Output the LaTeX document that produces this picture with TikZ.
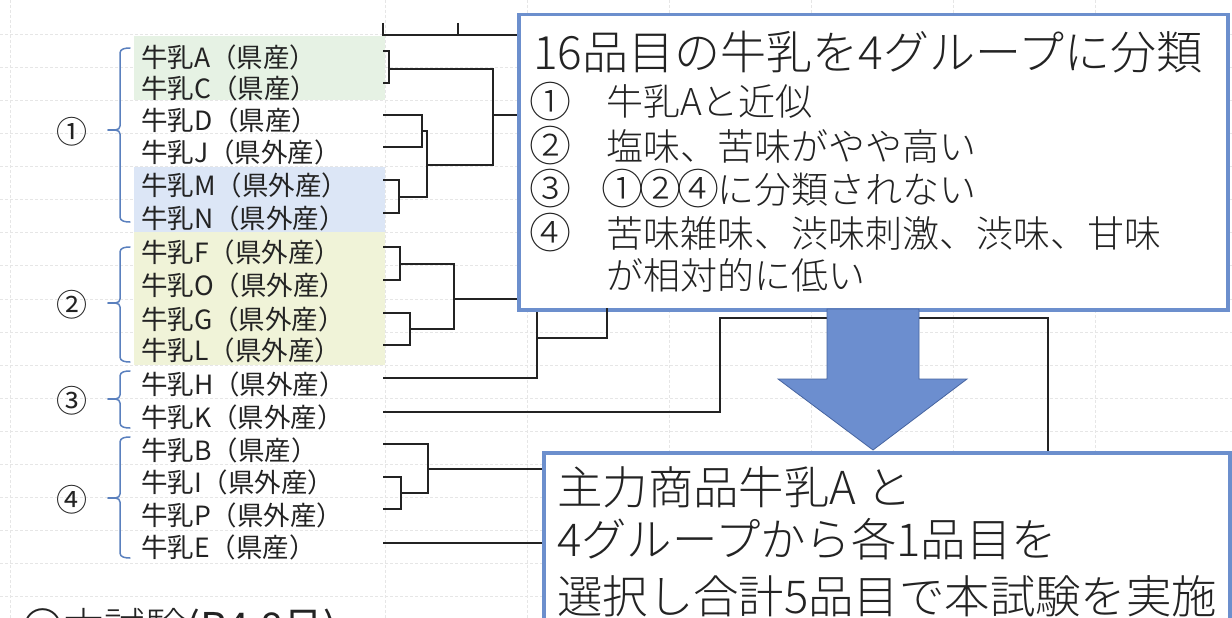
\documentclass[tikz,border=0pt]{standalone}
\usepackage{fontspec}
\setmainfont{Noto Sans CJK JP}
\IfFontExistsTF{Noto Sans CJK JP Light}
  {\newfontfamily\thinfont{Noto Sans CJK JP Light}}
  {\newfontfamily\thinfont{Noto Sans CJK JP}}
\definecolor{txt}{RGB}{35,35,35}
\definecolor{boxblue}{RGB}{108,143,205}
\definecolor{arrfill}{RGB}{108,142,207}
\definecolor{arrline}{RGB}{70,100,160}
\definecolor{brkblue}{RGB}{90,128,190}
\definecolor{bggreen}{RGB}{230,242,228}
\definecolor{bgblue}{RGB}{220,230,246}
\definecolor{bgyellow}{RGB}{240,243,216}
\definecolor{gridc}{RGB}{230,230,230}
\tikzset{
  lbl/.style={anchor=west, inner sep=0pt, text=txt, font=\fontsize{26.5}{30}\selectfont},
  grpnum/.style={inner sep=0pt, text=txt, font=\fontsize{31}{34}\selectfont},
  titletxt/.style={anchor=west, inner sep=0pt, text=txt, font=\thinfont\fontsize{46}{54}\selectfont},
  itemtxt/.style={anchor=west, inner sep=0pt, text=txt, font=\thinfont\fontsize{37}{44}\selectfont},
  itemnum/.style={anchor=west, inner sep=0pt, text=txt, font=\thinfont\fontsize{42}{44}\selectfont},
  bigtxt/.style={anchor=west, inner sep=0pt, text=txt, font=\thinfont\fontsize{45.4}{52}\selectfont},
  headtxt/.style={anchor=west, inner sep=0pt, text=txt, font=\thinfont\fontsize{41}{48}\selectfont},
  dendro/.style={draw=txt, line width=1.8pt},
  bluebox/.style={draw=boxblue, fill=white, line width=3.5pt, inner sep=0pt, anchor=north west},
  brk/.style={draw=brkblue, line width=1.5pt, line cap=round},
  gridline/.style={draw=gridc, line width=0.6pt, dash pattern=on 3pt off 2pt},
  bigarrow/.style={fill=arrfill, draw=arrline, line width=0.8pt, line join=miter},
}
\newcommand{\circnum}[1]{\makebox[38pt]{\raisebox{-1.8pt}{\fontsize{42}{42}\selectfont #1}}}
\begin{document}
\begin{tikzpicture}[x=1pt,y=-1pt]
\useasboundingbox (0,0) rectangle (1232,618);
\clip (0,0) rectangle (1232,618);
\fill[white] (0,0) rectangle (1232,618);
% faint spreadsheet grid
\foreach \k in {0,...,17} { \draw[gridline] (0,34+33.1*\k) -- (1232,34+33.1*\k); }
\foreach \xx in {10,385,527,669,811,953,1095} { \draw[gridline] (\xx,0) -- (\xx,618); }
% coloured backgrounds
\fill[bggreen] (134,36) rectangle (385,100);
\fill[bgblue] (134,167) rectangle (385,232);
\fill[bgyellow] (134,232) rectangle (385,365);
% labels
\node[lbl] (tA) at (141,57) {牛乳A（県産）};
\node[lbl] (tC) at (141,88) {牛乳C（県産）};
\node[lbl] (tD) at (141,120) {牛乳D（県産）};
\node[lbl] (tJ) at (141,152) {牛乳J（県外産）};
\node[lbl] (tM) at (141,185) {牛乳M（県外産）};
\node[lbl] (tN) at (141,218) {牛乳N（県外産）};
\node[lbl] (tF) at (141,252) {牛乳F（県外産）};
\node[lbl] (tO) at (141,285) {牛乳O（県外産）};
\node[lbl] (tG) at (141,319) {牛乳G（県外産）};
\node[lbl] (tL) at (141,350) {牛乳L（県外産）};
\node[lbl] (tH) at (141,384) {牛乳H（県外産）};
\node[lbl] (tK) at (141,417) {牛乳K（県外産）};
\node[lbl] (tB) at (141,450) {牛乳B（県産）};
\node[lbl] (tI) at (141,482) {牛乳I（県外産）};
\node[lbl] (tP) at (141,515) {牛乳P（県外産）};
\node[lbl] (tE) at (141,547) {牛乳E（県産）};
% group brackets
\node[grpnum] (g1) at (72,132) {①};
\node[grpnum] (g2) at (72,305) {②};
\node[grpnum] (g3) at (72,401) {③};
\node[grpnum] (g4) at (72,500) {④};
\foreach \t/\b/\m in {48/222/130, 247/362/303, 371/428/399, 437/558/498} {
  \draw[brk] (130,\t) to[out=180,in=90] (120,\t+5) -- (120,\m-4) to[out=270,in=0] (108,\m);
  \draw[brk] (130,\b) to[out=180,in=270] (120,\b-5) -- (120,\m+4) to[out=90,in=0] (108,\m);
}
% bottom-left heading (cut by the frame)
\node[headtxt] (hd) at (22,629) {〇本試験{\fontspec{Noto Sans CJK JP}(R4.8月)}};
% boxes
\node[bluebox, minimum width=709pt, minimum height=295pt] (box1) at (517,13) {};
\node[bluebox, minimum width=686pt, minimum height=220pt] (box2) at (542,451) {};
% dendrogram leaf ends
\coordinate (A) at (383,51);  \coordinate (C) at (383,83);
\coordinate (D) at (383,115); \coordinate (J) at (383,147);
\coordinate (M) at (383,180); \coordinate (N) at (383,213);
\coordinate (F) at (383,247); \coordinate (O) at (383,280);
\coordinate (G) at (383,313); \coordinate (L) at (383,345);
\coordinate (H) at (383,378); \coordinate (K) at (383,412);
\coordinate (B) at (383,444); \coordinate (I) at (383,477);
\coordinate (P) at (383,509); \coordinate (E) at (383,543);
% joins
\coordinate (jAC) at (389,69);
\coordinate (jDJ) at (422,131);
\coordinate (jMN) at (399,197);
\coordinate (jDJMN) at (427,165);
\coordinate (jG1) at (493,115);
\coordinate (jFO) at (400,264);
\coordinate (jGL) at (410,329);
\coordinate (jG2) at (454,299);
\coordinate (jH) at (537,338);
\coordinate (uH) at (607,308);
\coordinate (kU) at (720,318);
\coordinate (kR) at (1048,318);
\coordinate (jIP) at (401,493);
\coordinate (jBIP) at (428,469);
\coordinate (T1) at (383,23);
\coordinate (T2) at (458,23);
\coordinate (Tl) at (383,35);
% dendrogram lines
\draw[dendro] (T1) -- (Tl) -- (Tl -| box1.west);
\draw[dendro] (T2) -- (T2 |- Tl);
\draw[dendro] (A) -| (jAC) |- (C);
\draw[dendro] (D) -| (jDJ) |- (J);
\draw[dendro] (M) -| (jMN) |- (N);
\draw[dendro] (jDJ) -| (jDJMN) |- (jMN);
\draw[dendro] (jAC) -| (jG1) |- (jDJMN);
\draw[dendro] (jG1) -- (jG1 -| box1.west);
\draw[dendro] (F) -| (jFO) |- (O);
\draw[dendro] (G) -| (jGL) |- (L);
\draw[dendro] (jFO) -| (jG2) |- (jGL);
\draw[dendro] (jG2) -- (jG2 -| box1.west);
\draw[dendro] (H) -| (jH) -- (jH |- box1.south);
\draw[dendro] (jH) -| (uH);
\draw[dendro] (K) -| (kU) -- (kR) -- (kR |- box2.north);
\draw[dendro] (I) -| (jIP) |- (P);
\draw[dendro] (B) -| (jBIP) |- (jIP);
\draw[dendro] (jBIP) -- (jBIP -| box2.west);
\draw[dendro] (E) -- (E -| box2.west);
% big arrow
\draw[bigarrow] (827,309) -- (919,309) -- (919,379) -- (967,379) -- (873,450) -- (778,379) -- (827,379) -- cycle;
% box 1 text
\node[titletxt] (title) at (533,52) {16品目の牛乳を4グループに分類};
\node[itemnum] (n1) at (529,102) {①};
\node[itemtxt] (i1) at (606,102) {牛乳Aと近似};
\node[itemnum] (n2) at (529,146) {②};
\node[itemtxt] (i2) at (606,146) {塩味、苦味がやや高い};
\node[itemnum] (n3) at (529,189) {③};
\node[itemtxt] (i3) at (603,189) {\circnum{①}\circnum{②}\circnum{④}に分類されない};
\node[itemnum] (n4) at (529,233) {④};
\node[itemtxt] (i4) at (606,233) {苦味雑味、渋味刺激、渋味、甘味};
\node[itemtxt] (i5) at (606,275) {が相対的に低い};
% box 2 text
\node[bigtxt] (s1) at (557,487) {主力商品牛乳A と};
\node[bigtxt] (s2) at (557,539) {4グループから各1品目を};
\node[bigtxt] (s3) at (557,596) {選択し合計5品目で本試験を実施};
\end{tikzpicture}
\end{document}
